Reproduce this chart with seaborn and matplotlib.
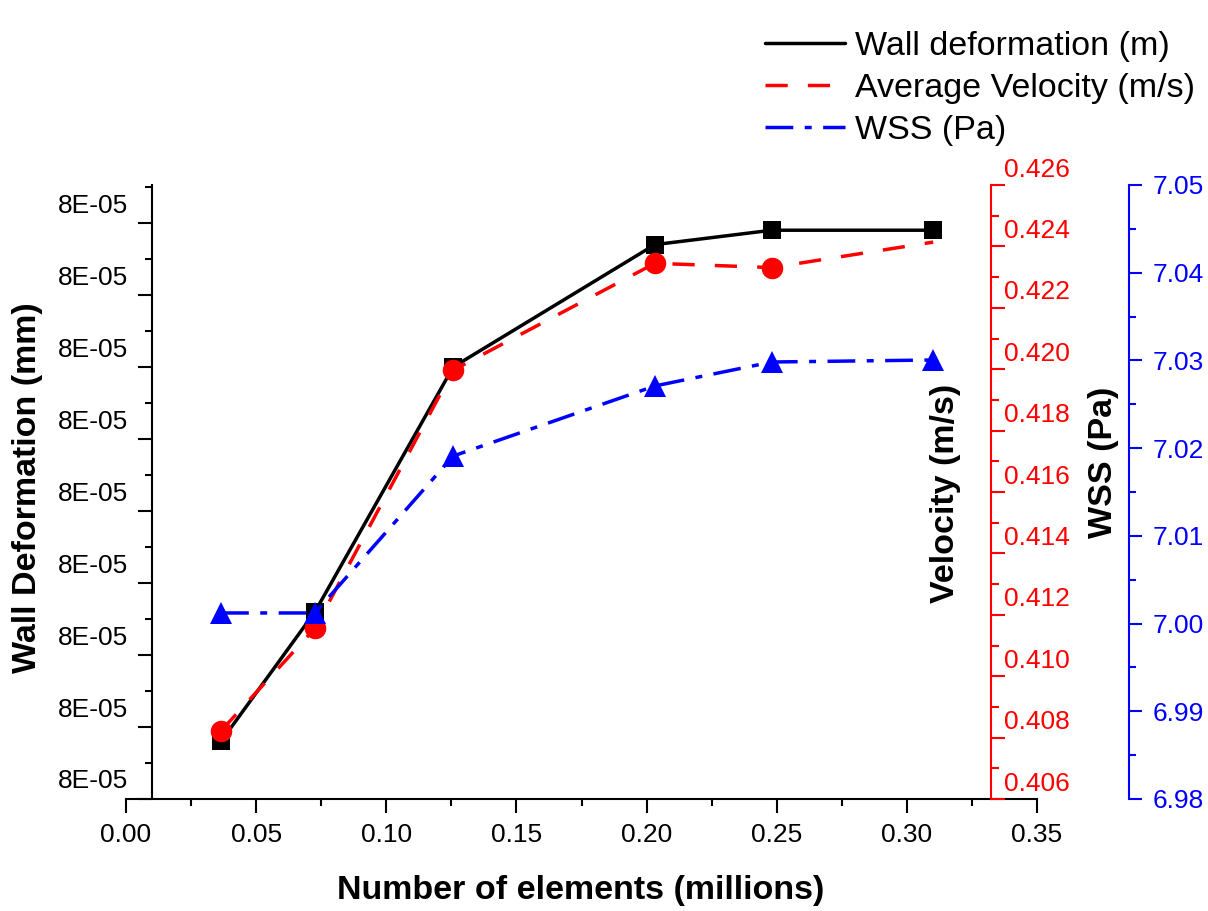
import matplotlib
matplotlib.use("Agg")
import matplotlib.pyplot as plt
import seaborn as sns
import numpy as np
from matplotlib.ticker import FixedLocator, FormatStrFormatter
from matplotlib.lines import Line2D
from matplotlib.transforms import ScaledTranslation

# ---------------- data ----------------
elements = [0.0365, 0.0726, 0.1257, 0.2032, 0.2481, 0.3101]          # millions
wall_def = [7.99908e-5, 7.99926e-5, 7.99960e-5, 7.99977e-5, 7.99979e-5, 7.99979e-5]
velocity = [0.40822, 0.41156, 0.41997, 0.42345, 0.42331, 0.42414]
wss = [7.00121, 7.00121, 7.01910, 7.02709, 7.02982, 7.03005]

legend_labels = ["Wall deformation (m)", "Average Velocity (m/s)", "WSS (Pa)"]
x_label = "Number of elements (millions)"
wall_label = "Wall Deformation (mm)"
vel_label = "Velocity (m/s)"
wss_label = "WSS (Pa)"

x_ticks = [0.00, 0.05, 0.10, 0.15, 0.20, 0.25, 0.30, 0.35]
wall_base = 7.9990e-5
wall_step = 1e-9
wall_ticks = [wall_base + k * wall_step for k in range(9)]
vel_ticks = [0.406, 0.408, 0.410, 0.412, 0.414, 0.416, 0.418, 0.420, 0.422, 0.424, 0.426]
wss_ticks = [6.98, 6.99, 7.00, 7.01, 7.02, 7.03, 7.04, 7.05]

# ---------------- style ----------------
sns.set_style("ticks")
plt.rcParams['font.family'] = ['Liberation Sans', 'DejaVu Sans']
plt.rcParams['axes.edgecolor'] = 'black'
plt.rcParams['axes.linewidth'] = 1.5
plt.rcParams['text.color'] = 'black'
plt.rcParams['axes.labelcolor'] = 'black'
plt.rcParams['xtick.color'] = 'black'
plt.rcParams['ytick.color'] = 'black'

W, H = 1208, 911
fig = plt.figure(figsize=(W / 100, H / 100), dpi=100)
fig.patch.set_facecolor('white')
ax = fig.add_axes([126 / W, 1 - 799 / H, 911 / W, 614 / H])
ax2 = ax.twinx()
ax3 = ax.twinx()

LW = 2.5
sns.lineplot(x=elements, y=wall_def, ax=ax, color='black', lw=LW,
             marker='s', markersize=13, markeredgewidth=0, zorder=3)
sns.lineplot(x=elements, y=velocity, ax=ax2, color='red', lw=LW,
             linestyle=(0, (6.4, 5.8)), marker='o', markersize=15.5,
             markeredgewidth=0, markevery=list(range(len(velocity) - 1)), zorder=3)
sns.lineplot(x=elements, y=wss, ax=ax3, color='blue', lw=LW,
             linestyle=(0, (8.0, 3.3, 2.0, 3.3)), marker='^', markersize=16.5,
             markeredgewidth=0, zorder=3)

# ---------------- main axis ----------------
ax.set_xlim(x_ticks[0], x_ticks[-1])
ax.set_ylim(wall_base, wall_base + 8.528 * wall_step)
ax.xaxis.set_major_locator(FixedLocator(x_ticks))
ax.xaxis.set_minor_locator(FixedLocator([(a + b) / 2 for a, b in zip(x_ticks[:-1], x_ticks[1:])]))
ax.xaxis.set_major_formatter(FormatStrFormatter('%.2f'))
ax.yaxis.set_major_locator(FixedLocator(wall_ticks))
ax.yaxis.set_minor_locator(FixedLocator([t + wall_step / 2 for t in wall_ticks]))
ax.yaxis.set_major_formatter(FormatStrFormatter('%.0E'))
for s in ['top', 'right']:
    ax.spines[s].set_visible(False)
ax.spines['left'].set_position(('axes', 0.0285))
ax.tick_params(axis='both', which='major', length=10, width=1.5, labelsize=19,
               direction='out', color='black', labelcolor='black', pad=7)
ax.tick_params(axis='both', which='minor', length=5, width=1.5, direction='out', color='black')
ax.tick_params(axis='y', left=True, which='both')
ax.tick_params(axis='x', bottom=True, which='both')

ax.set_xlabel(x_label, fontsize=24.5, fontweight='bold')
ax.xaxis.set_label_coords(0.4995, -0.124)
ax.set_ylabel(wall_label, fontsize=24.5, fontweight='bold')
ax.yaxis.set_label_coords(-0.0911, 0.507)

# ---------------- velocity axis ----------------
ax2.set_ylim(vel_ticks[0], vel_ticks[-1])
ax2.yaxis.set_major_locator(FixedLocator(vel_ticks))
ax2.yaxis.set_minor_locator(FixedLocator([(a + b) / 2 for a, b in zip(vel_ticks[:-1], vel_ticks[1:])]))
ax2.yaxis.set_major_formatter(FormatStrFormatter('%.3f'))
for s in ['top', 'left', 'bottom']:
    ax2.spines[s].set_visible(False)
ax2.spines['right'].set_position(('axes', 0.949))
ax2.spines['right'].set_color('red')
ax2.spines['right'].set_linewidth(1.5)
ax2.tick_params(axis='y', which='major', right=True, length=10, width=1.5, colors='red',
                labelsize=19, pad=0, direction='out')
ax2.tick_params(axis='y', which='minor', right=True, length=5.5, width=1.5, colors='red',
                direction='out')
ax2.set_ylabel(vel_label, fontsize=24.5, fontweight='bold', color='black')
ax2.yaxis.set_label_coords(0.8826, 0.497)

# ---------------- WSS axis ----------------
ax3.set_ylim(wss_ticks[0], wss_ticks[-1])
ax3.yaxis.set_major_locator(FixedLocator(wss_ticks))
ax3.yaxis.set_minor_locator(FixedLocator([(a + b) / 2 for a, b in zip(wss_ticks[:-1], wss_ticks[1:])]))
ax3.yaxis.set_major_formatter(FormatStrFormatter('%.2f'))
for s in ['top', 'left', 'bottom']:
    ax3.spines[s].set_visible(False)
ax3.spines['right'].set_position(('axes', 1.1007))
ax3.spines['right'].set_color('blue')
ax3.spines['right'].set_linewidth(1.5)
ax3.tick_params(axis='y', which='major', right=True, length=9, width=1.5, colors='blue',
                labelsize=19, pad=8, direction='out')
ax3.tick_params(axis='y', which='minor', right=True, length=5, width=1.5, colors='blue',
                direction='out')
ax3.set_ylabel(wss_label, fontsize=24.5, fontweight='bold', color='black')
ax3.yaxis.set_label_coords(1.056, 0.549)

# ---------------- legend ----------------
handles = [
    Line2D([], [], color='black', lw=LW),
    Line2D([], [], color='red', lw=LW, linestyle=(0, (6.4, 5.8))),
    Line2D([], [], color='blue', lw=LW, linestyle=(0, (8.0, 3.3, 2.0, 3.3))),
]
leg = fig.legend(handles, legend_labels, loc='upper left', bbox_to_anchor=(765 / W, 1 - 31 / H),
                 frameon=False, fontsize=24.5, handlelength=2.35, handletextpad=0.3,
                 labelspacing=0.32, borderpad=0, borderaxespad=0)
for txt in leg.get_texts():
    txt.set_color('black')

# shifted tick labels (as in the original export)
for t in ax.yaxis.get_major_ticks():
    t.label1.set_transform(t.label1.get_transform() + ScaledTranslation(0, 20 / 100, fig.dpi_scale_trans))
for t in ax2.yaxis.get_major_ticks():
    t.label2.set_transform(t.label2.get_transform() + ScaledTranslation(0, 18 / 100, fig.dpi_scale_trans))

fig.savefig("out.png", dpi=100, facecolor='white')
